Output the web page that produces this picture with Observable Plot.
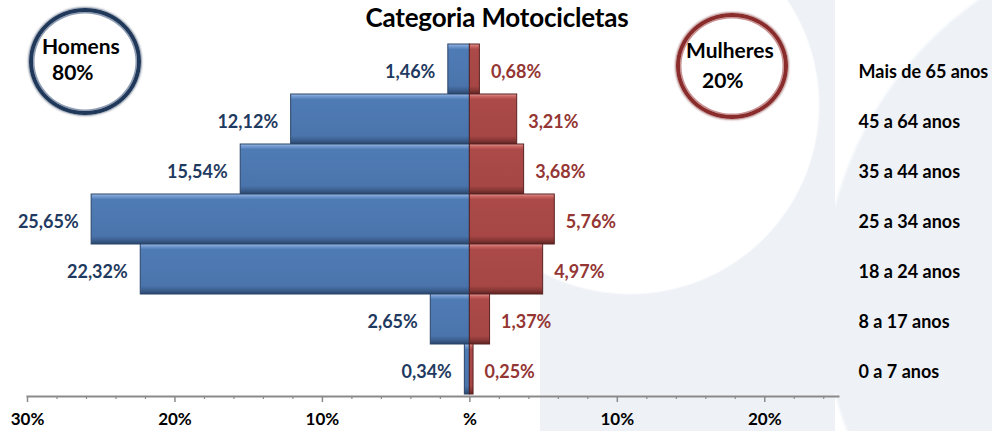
<!DOCTYPE html>
<html>
<head>
<meta charset="utf-8">
<script src="https://cdn.jsdelivr.net/npm/d3@7"></script>
<script src="https://cdn.jsdelivr.net/npm/@observablehq/plot@0.6"></script>
<style>
  html, body { margin: 0; padding: 0; background: #fff; }
  #wrap {
    position: relative; width: 992px; height: 431px; overflow: hidden;
    font-family: Lato, "Open Sans", sans-serif;
    background:
      radial-gradient(circle 190px at 630px 105px, #fff 99%, rgba(255,255,255,0) 100%),
      radial-gradient(circle 369px at 1190px 300px, #eef2f7 99%, rgba(238,242,247,0) 100%),
      linear-gradient(to right, rgba(0,0,0,0) 540px, #eef2f7 540px, #eef2f7 835px, rgba(0,0,0,0) 835px),
      #fff;
  }
  #wrap svg { position: absolute; left: 0; top: 0; }
  .title { position: absolute; left: 0; width: 994px; top: 4px; text-align: center; line-height: 1;
           font-weight: bold; font-size: 26px; color: #000; letter-spacing: -0.2px; }
  .ring { position: absolute; border-radius: 50%; box-sizing: border-box; }
  .ring.h { left: 29px; top: 8px; width: 112px; height: 107px; border: 4px solid #20385a;
            box-shadow: inset 0 0 0 1.5px #8e9db3, 0 0 2px 1px rgba(40,60,90,0.55); }
  .ring.m { left: 676px; top: 13px; width: 112px; height: 106px; border: 4px solid #8a2c2c;
            box-shadow: inset 0 0 0 1.5px #c99393, 0 0 2px 1px rgba(120,40,40,0.55); }
  .rt { position: absolute; font-weight: bold; font-size: 21px; color: #000; line-height: 1; }
</style>
</head>
<body>
<div id="wrap">
  <div class="ring h"></div>
  <div class="ring m"></div>
  <div class="rt" style="left:42px; top:35px;">Homens</div>
  <div class="rt" style="left:52px; top:61px;">80%</div>
  <div class="rt" style="left:686px; top:39px;">Mulheres</div>
  <div class="rt" style="left:702px; top:69px;">20%</div>
  <div class="title">Categoria Motocicletas</div>
</div>
<script>
const categories = ["Mais de 65 anos", "45 a 64 anos", "35 a 44 anos", "25 a 34 anos", "18 a 24 anos", "8 a 17 anos", "0 a 7 anos"];
const homens   = [1.46, 12.12, 15.54, 25.65, 22.32, 2.65, 0.34];
const mulheres = [0.68, 3.21, 3.68, 5.76, 4.97, 1.37, 0.25];
const majorTicks = [-30, -20, -10, 0, 10, 20];
const minorTicks = [-28, -26, -24, -22, -18, -16, -14, -12, -8, -6, -4, -2, 2, 4, 6, 8, 12, 14, 16, 18, 22, 24];

const data = categories.map((c, i) => ({cat: c, h: homens[i], m: mulheres[i]}));
const fmt = v => d3.format(".2f")(v).replace(".", ",") + "%";

const chart = Plot.plot({
  width: 992,
  height: 431,
  marginLeft: 27,
  marginRight: 154,
  marginTop: 42,
  marginBottom: 35,
  style: {background: "transparent", fontFamily: "Lato, 'Open Sans', sans-serif"},
  x: {domain: [-30, 25], label: null},
  y: {domain: categories, padding: 0, axis: null},
  marks: [
    Plot.rectX(data, {y: "cat", x1: d => -d.h, x2: 0, fill: "url(#gBlue)", stroke: "#2a4468", strokeWidth: 1}),
    Plot.rectX(data, {y: "cat", x1: 0, x2: d => d.m, fill: "url(#gRed)", stroke: "#5a2120", strokeWidth: 1}),
    Plot.text(data, {y: "cat", x: d => -d.h, text: d => fmt(d.h), textAnchor: "end", dx: -13, dy: 3,
      fill: "#1f3a60", fontSize: 18, fontWeight: "bold"}),
    Plot.text(data, {y: "cat", x: d => d.m, text: d => fmt(d.m), textAnchor: "start", dx: 11, dy: 3,
      fill: "#943634", fontSize: 18, fontWeight: "bold"}),
    Plot.text(categories, {y: d => d, frameAnchor: "right", textAnchor: "start", dx: 20, dy: 3,
      fill: "#000", fontSize: 18, fontWeight: "bold"}),
    Plot.frame({anchor: "bottom", stroke: "#8a8a8a", strokeWidth: 2}),
    Plot.axisX({ticks: minorTicks, tickSize: 3, tickFormat: () => "", stroke: "#8a8a8a", strokeWidth: 1.2}),
    Plot.axisX({ticks: majorTicks, tickSize: 6, tickPadding: 10, stroke: "#8a8a8a", strokeWidth: 1.5,
      fill: "#000", fontSize: 17, fontWeight: "bold",
      tickFormat: d => d === 0 ? "%" : Math.abs(d) + "%"})
  ]
});

chart.insertAdjacentHTML("afterbegin", `
<defs>
  <linearGradient id="gBlue" x1="0" y1="0" x2="0" y2="1">
    <stop offset="0" stop-color="#9bbbe4"/>
    <stop offset="0.05" stop-color="#7199cf"/>
    <stop offset="0.11" stop-color="#4f7bb5"/>
    <stop offset="0.84" stop-color="#4a74ab"/>
    <stop offset="0.93" stop-color="#3a5d8c"/>
    <stop offset="1" stop-color="#2a456c"/>
  </linearGradient>
  <linearGradient id="gRed" x1="0" y1="0" x2="0" y2="1">
    <stop offset="0" stop-color="#e39a98"/>
    <stop offset="0.05" stop-color="#c96461"/>
    <stop offset="0.11" stop-color="#ab4a48"/>
    <stop offset="0.84" stop-color="#a64745"/>
    <stop offset="0.93" stop-color="#833634"/>
    <stop offset="1" stop-color="#5e2422"/>
  </linearGradient>
</defs>`);

document.getElementById("wrap").insertBefore(chart, document.querySelector("#wrap .ring"));
</script>
</body>
</html>
